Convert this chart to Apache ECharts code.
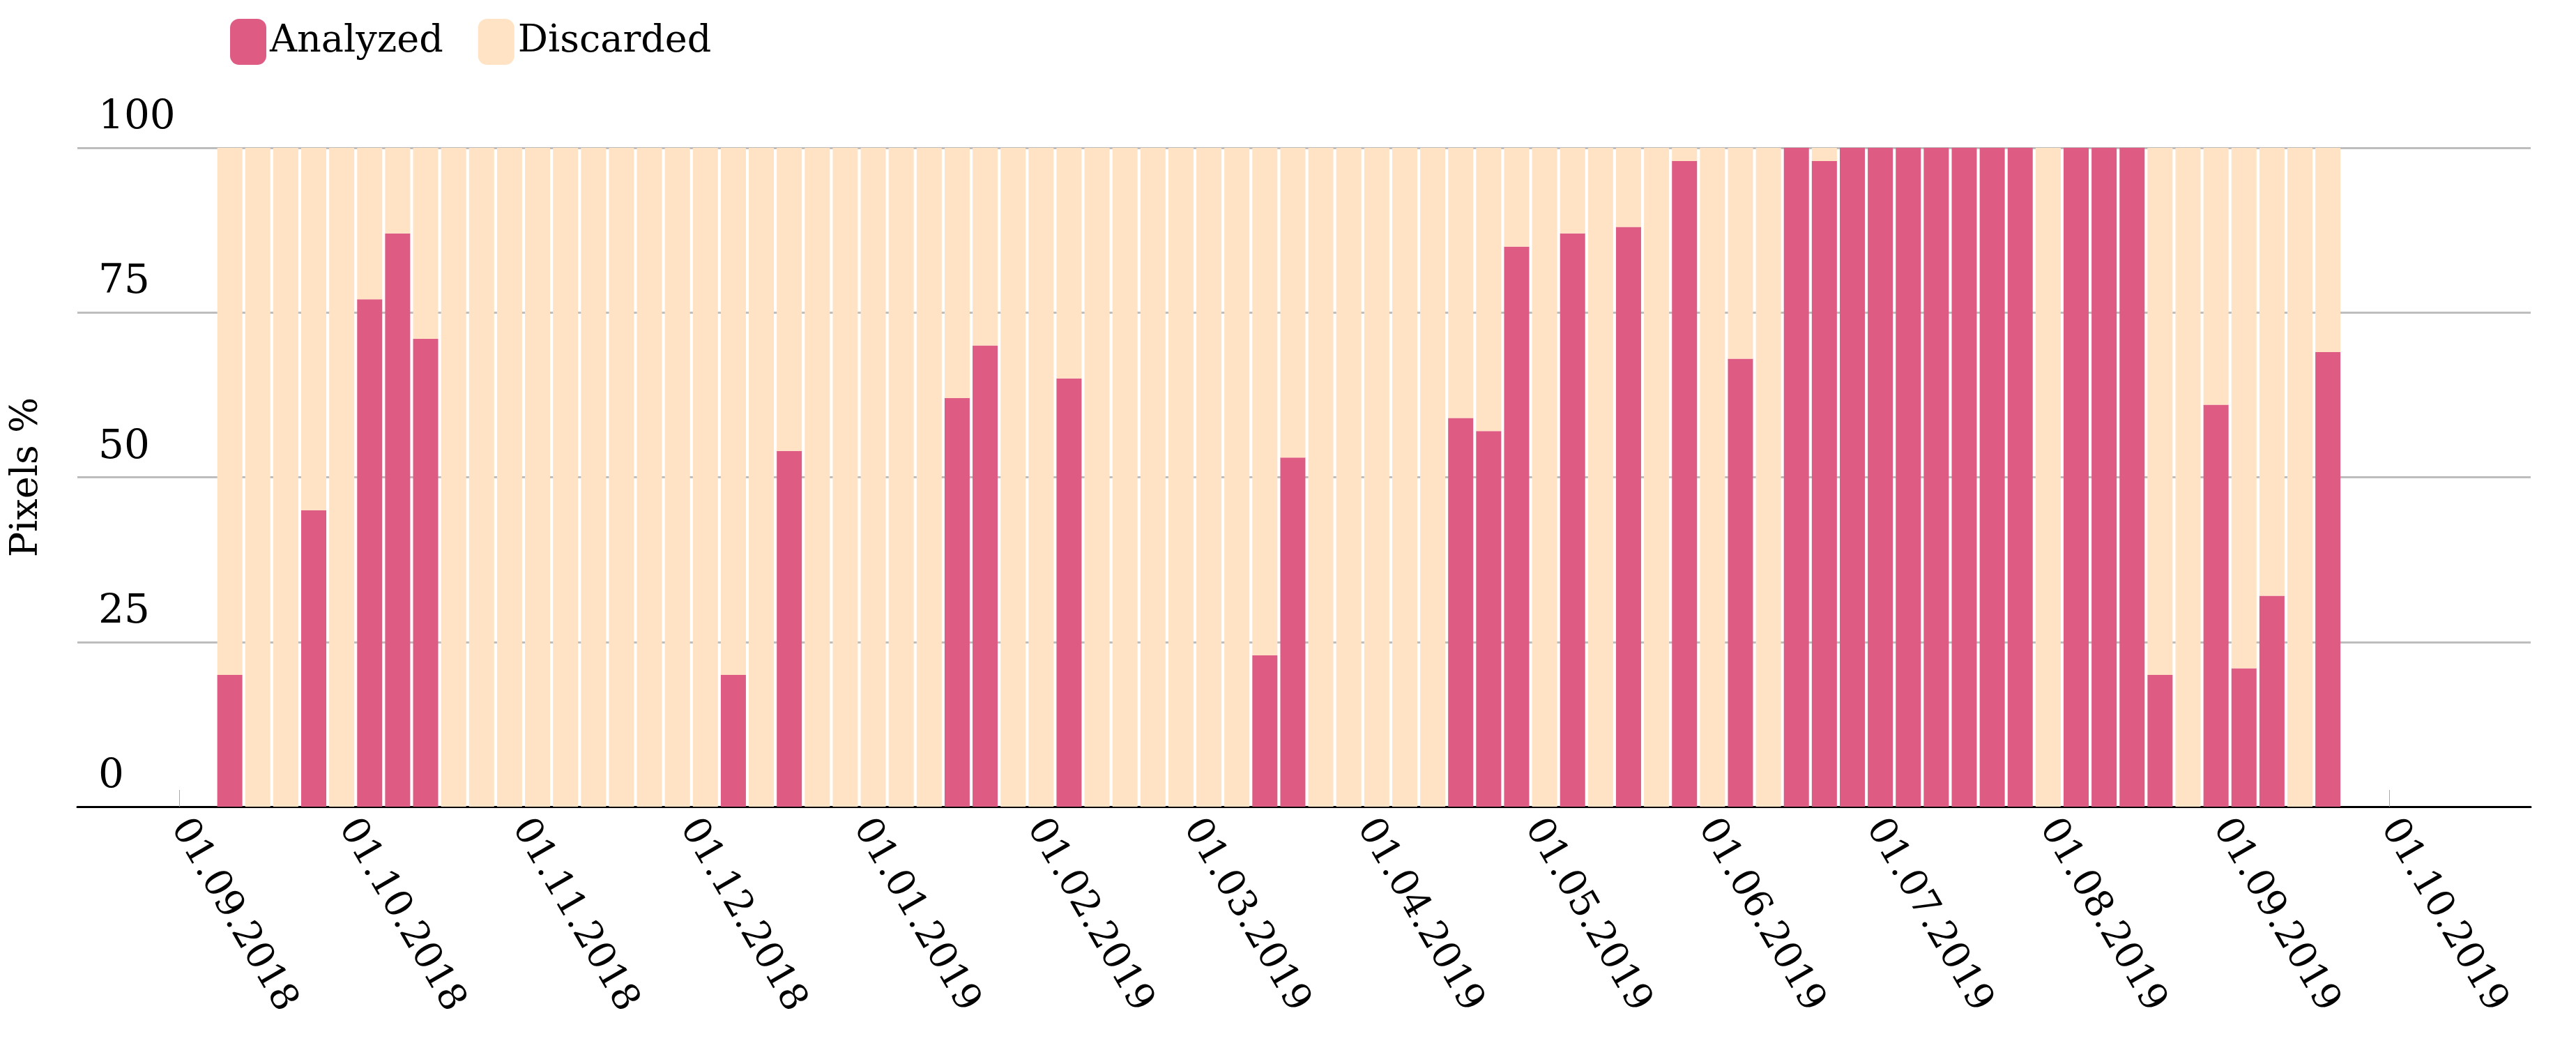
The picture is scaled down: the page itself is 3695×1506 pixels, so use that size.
<!DOCTYPE html>
<html>
<head>
<meta charset="utf-8">
<script src="https://cdn.jsdelivr.net/npm/echarts@6/dist/echarts.min.js"></script>
<style>html,body{margin:0;padding:0;background:#fff}#chart{width:3695px;height:1506px}</style>
</head>
<body>
<div id="chart"></div>
<script>
var dates = [
    '2018-09-10','2018-09-15','2018-09-20','2018-09-25','2018-09-30','2018-10-05','2018-10-10','2018-10-15','2018-10-20','2018-10-25',
    '2018-10-30','2018-11-04','2018-11-09','2018-11-14','2018-11-19','2018-11-24','2018-11-29','2018-12-04','2018-12-09','2018-12-14',
    '2018-12-19','2018-12-24','2018-12-29','2019-01-03','2019-01-08','2019-01-13','2019-01-18','2019-01-23','2019-01-28','2019-02-02',
    '2019-02-07','2019-02-12','2019-02-17','2019-02-22','2019-02-27','2019-03-04','2019-03-09','2019-03-14','2019-03-19','2019-03-24',
    '2019-03-29','2019-04-03','2019-04-08','2019-04-13','2019-04-18','2019-04-23','2019-04-28','2019-05-03','2019-05-08','2019-05-13',
    '2019-05-18','2019-05-23','2019-05-28','2019-06-02','2019-06-07','2019-06-12','2019-06-17','2019-06-22','2019-06-27','2019-07-02',
    '2019-07-07','2019-07-12','2019-07-17','2019-07-22','2019-07-27','2019-08-01','2019-08-06','2019-08-11','2019-08-16','2019-08-21',
    '2019-08-26','2019-08-31','2019-09-05','2019-09-10','2019-09-15','2019-09-20'
];
// percent of pixels analyzed per acquisition
var analyzed = [
    20, 0, 0, 45, 0, 77, 87, 71, 0, 0,
    0, 0, 0, 0, 0, 0, 0, 0, 20, 0,
    54, 0, 0, 0, 0, 0, 62, 70, 0, 0,
    65, 0, 0, 0, 0, 0, 0, 23, 53, 0,
    0, 0, 0, 0, 59, 57, 85, 0, 87, 0,
    88, 0, 98, 0, 68, 0, 100, 98, 100, 100,
    100, 100, 100, 100, 100, 0, 100, 100, 100, 20,
    0, 61, 21, 32, 0, 69
];
var discarded = analyzed.map(function(v) { return 100 - v; });
var yTicks = [0, 25, 50, 75, 100];

var font = 'DejaVu Serif';
var chart = echarts.init(document.getElementById('chart'));

function pad(n) { return n < 10 ? '0' + n : '' + n; }

var option = {
    animation: false,
    backgroundColor: '#fff',
    textStyle: { fontFamily: font, color: '#000' },
    legend: {
        left: 325, top: 22,
        itemWidth: 52, itemHeight: 66, itemGap: 50,
        textStyle: { fontFamily: font, fontSize: 54, color: '#000' },
        data: ['Analyzed', 'Discarded']
    },
    grid: { left: 111, right: 65, top: 212, bottom: 349 },
    xAxis: {
        type: 'time',
        min: '2018-08-16',
        max: '2019-10-24',
        minInterval: 28 * 86400000,
        maxInterval: 31 * 86400000,
        axisLine: { lineStyle: { color: '#000', width: 3 } },
        axisTick: { show: true, inside: true, length: 24, lineStyle: { color: '#aaa', width: 1 } },
        splitLine: { show: false },
        axisLabel: {
            rotate: -60, fontSize: 54, fontFamily: font, color: '#000', margin: 22,
            formatter: function(v) {
                var d = new Date(v);
                return pad(d.getDate()) + '.' + pad(d.getMonth() + 1) + '.' + d.getFullYear();
            }
        }
    },
    yAxis: {
        type: 'value', min: yTicks[0], max: yTicks[yTicks.length - 1], interval: 25,
        name: 'Pixels %', nameLocation: 'middle', nameGap: 45,
        nameTextStyle: { fontFamily: font, fontSize: 54, color: '#000' },
        axisLine: { show: false },
        axisTick: { show: false },
        axisLabel: {
            inside: true, margin: 30, verticalAlign: 'bottom', padding: [0, 0, 14, 0],
            fontSize: 58, fontFamily: font, color: '#000'
        },
        splitLine: { lineStyle: { color: '#bdbdbd', width: 3 } }
    },
    series: [
        {
            name: 'Analyzed', type: 'bar', stack: 'px', barWidth: 36,
            itemStyle: { color: '#de5c84' },
            data: dates.map(function(d, i) { return [d, analyzed[i]]; })
        },
        {
            name: 'Discarded', type: 'bar', stack: 'px', barWidth: 36,
            itemStyle: { color: '#ffe3c4' },
            data: dates.map(function(d, i) { return [d, discarded[i]]; })
        }
    ]
};

chart.setOption(option);
</script>
</body>
</html>
